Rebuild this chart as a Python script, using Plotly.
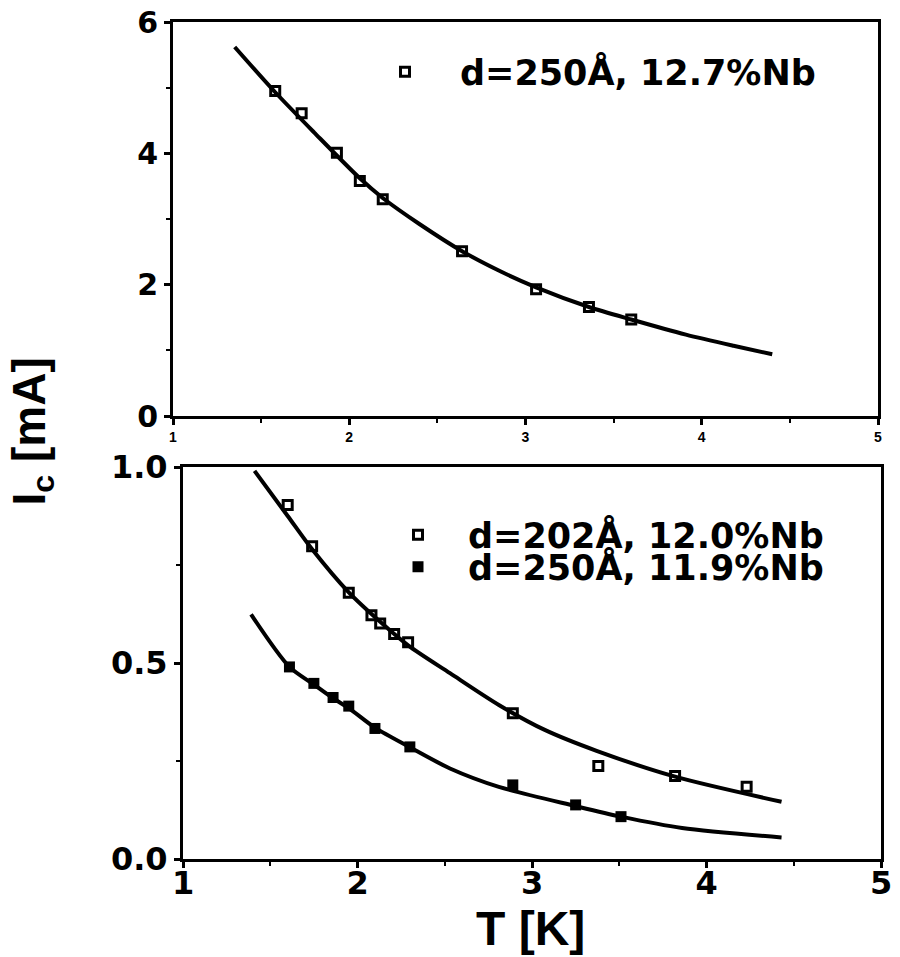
import plotly.graph_objects as go

# Upper panel: d=250 Å, 12.7 % Nb
top_T = [1.58, 1.73, 1.93, 2.06, 2.19, 2.64, 3.06, 3.36, 3.60]
top_Ic = [4.95, 4.61, 4.01, 3.58, 3.30, 2.51, 1.93, 1.66, 1.47]
top_fit_T = [1.35, 1.58, 1.80, 2.06, 2.19, 2.40, 2.64, 2.86, 3.06, 3.36, 3.60, 3.91, 4.18, 4.40]
top_fit_Ic = [5.62, 4.93, 4.32, 3.62, 3.32, 2.92, 2.51, 2.20, 1.96, 1.66, 1.47, 1.24, 1.07, 0.94]

# Lower panel: d=202 Å, 12.0 % Nb (open) and d=250 Å, 11.9 % Nb (filled)
a_T = [1.60, 1.74, 1.95, 2.08, 2.13, 2.21, 2.29, 2.89, 3.38, 3.82, 4.23]
a_Ic = [0.903, 0.798, 0.679, 0.622, 0.601, 0.574, 0.553, 0.372, 0.237, 0.212, 0.184]
a_fit_T = [1.41, 1.60, 1.74, 1.95, 2.13, 2.29, 2.53, 2.81, 3.07, 3.37, 3.82, 4.43]
a_fit_Ic = [0.99, 0.875, 0.79, 0.68, 0.605, 0.545, 0.474, 0.393, 0.33, 0.276, 0.21, 0.146]

b_T = [1.61, 1.75, 1.86, 1.95, 2.10, 2.30, 2.89, 3.25, 3.51]
b_Ic = [0.49, 0.448, 0.412, 0.39, 0.333, 0.286, 0.189, 0.138, 0.108]
b_fit_T = [1.39, 1.61, 1.75, 1.86, 1.95, 2.10, 2.30, 2.53, 2.81, 3.25, 3.51, 3.86, 4.43]
b_fit_Ic = [0.624, 0.49, 0.445, 0.41, 0.385, 0.335, 0.285, 0.231, 0.184, 0.135, 0.108, 0.079, 0.055]

top_label = "d=250Å, 12.7%Nb"
a_label = "d=202Å, 12.0%Nb"
b_label = "d=250Å, 11.9%Nb"

W, H = 900, 957
BOLD = "Liberation Sans"
WIDE = "DejaVu Sans"

def fx(p):
    return p / W

def fy(p):
    return 1 - p / H

open_marker = dict(symbol="square-open", size=9, color="black", line=dict(width=3, color="black"))
full_marker = dict(symbol="square", size=11, color="black", line=dict(width=0))
fit_line = dict(color="black", width=4, shape="spline", smoothing=0.8)

fig = go.Figure()
fig.add_trace(go.Scatter(x=top_fit_T, y=top_fit_Ic, mode="lines", line=fit_line,
                         xaxis="x", yaxis="y", showlegend=False, hoverinfo="skip"))
fig.add_trace(go.Scatter(x=top_T, y=top_Ic, mode="markers", marker=open_marker,
                         xaxis="x", yaxis="y", name=top_label, legend="legend"))
fig.add_trace(go.Scatter(x=a_fit_T, y=a_fit_Ic, mode="lines", line=fit_line,
                         xaxis="x2", yaxis="y2", showlegend=False, hoverinfo="skip"))
fig.add_trace(go.Scatter(x=b_fit_T, y=b_fit_Ic, mode="lines", line=fit_line,
                         xaxis="x2", yaxis="y2", showlegend=False, hoverinfo="skip"))
fig.add_trace(go.Scatter(x=a_T, y=a_Ic, mode="markers", marker=open_marker,
                         xaxis="x2", yaxis="y2", name=a_label, legend="legend2"))
fig.add_trace(go.Scatter(x=b_T, y=b_Ic, mode="markers", marker=full_marker,
                         xaxis="x2", yaxis="y2", name=b_label, legend="legend3"))

axis_common = dict(
    showline=True, linewidth=3, linecolor="black", mirror=True,
    ticks="outside", tickwidth=2.5, ticklen=6, tickcolor="black",
    showgrid=False, zeroline=False, fixedrange=True, automargin=False,
)
minor_ticks = dict(ticks="outside", ticklen=4, tickwidth=2, tickcolor="black")

def legend_box(xp, yp, iw):
    return dict(x=fx(xp), y=fy(yp), xref="container", yref="container",
                xanchor="left", yanchor="middle", itemwidth=iw,
                bgcolor="rgba(0,0,0,0)", borderwidth=0,
                font=dict(family=WIDE, size=35, color="black", weight="bold"))

fig.update_layout(
    width=W, height=H,
    margin=dict(l=0, r=0, t=0, b=0, autoexpand=False),
    paper_bgcolor="white", plot_bgcolor="white",
    xaxis=dict(domain=[fx(173), fx(878)], range=[1, 5], anchor="y",
               tickvals=[1, 2, 3, 4, 5], minor=dict(dtick=0.5, **minor_ticks),
               tickfont=dict(family=BOLD, size=14, color="black", weight="bold"),
               **axis_common),
    yaxis=dict(domain=[fy(416), fy(22)], range=[0, 6], anchor="x",
               tickvals=[0, 2, 4, 6], minor=dict(dtick=1, **minor_ticks),
               tickfont=dict(family=WIDE, size=30, color="black", weight="bold"),
               **axis_common),
    xaxis2=dict(domain=[fx(183), fx(881)], range=[1, 5], anchor="y2",
                tickvals=[1, 2, 3, 4, 5], minor=dict(dtick=0.5, **minor_ticks),
                ticklabelstandoff=-12,
                tickfont=dict(family=WIDE, size=32, color="black", weight="bold"),
                **axis_common),
    yaxis2=dict(domain=[fy(859), fy(467)], range=[0, 1], anchor="x2",
                tickvals=[0, 0.5, 1.0], tickformat=".1f",
                minor=dict(dtick=0.25, **minor_ticks),
                tickfont=dict(family=WIDE, size=32, color="black", weight="bold"),
                **axis_common),
    legend=legend_box(350, 72, 100),
    legend2=legend_box(368, 535, 90),
    legend3=legend_box(368, 567, 90),
    annotations=[
        dict(text="I<sub>c</sub> [mA]", textangle=-90, x=0, y=fy(432),
             xref="paper", yref="paper", showarrow=False, xanchor="left", yanchor="middle",
             font=dict(family=BOLD, size=46, color="black", weight="bold")),
        dict(text="T [K]", x=fx(530), y=0, xref="paper", yref="paper",
             showarrow=False, xanchor="center", yanchor="bottom",
             font=dict(family=BOLD, size=48, color="black", weight="bold")),
    ],
)

fig.write_html("out.html")
